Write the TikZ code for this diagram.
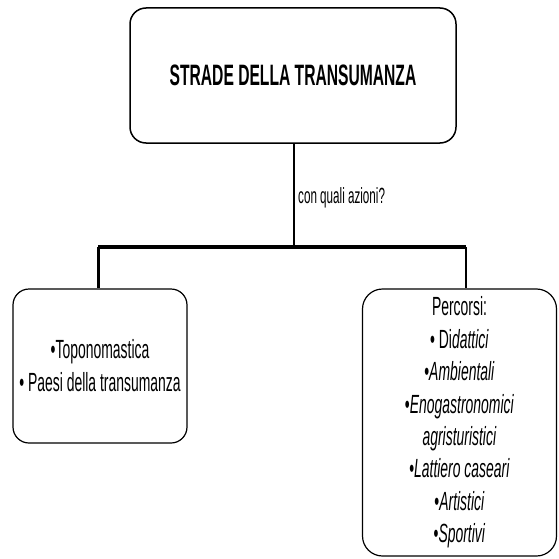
\documentclass[tikz,border=0pt]{standalone}
\usepackage{fontspec}
\setmainfont{Liberation Sans}[FakeStretch=0.53]
\usepackage{tikz}

\begin{document}
\begin{tikzpicture}[x=1pt,y=-1pt,
    box/.style={draw, rounded corners=16pt, line width=1.2pt, align=center, inner sep=0pt},
    ramo/.style={line width=3pt}]
    \useasboundingbox (0,0) rectangle (559,559);

    % Title box
    \node[box, line width=1.5pt, minimum width=326pt, minimum height=135pt,
        font=\fontsize{29.5}{34}\selectfont\bfseries] (strade) at (293,75.5)
        {STRADE DELLA TRANSUMANZA};

    % Branch boxes
    \node[box, minimum width=174pt, minimum height=154pt,
        font=\fontsize{26.3}{33}\selectfont] (temi) at (100,366)
        {\textbullet Toponomastica\\\textbullet{} Paesi della transumanza};
    \node[box, rounded corners=20pt, minimum width=194pt, minimum height=267pt,
        font=\fontsize{26.3}{32.4}\selectfont] (percorsi) at (459.5,422.5)
        {Percorsi:\\\textbullet{} Di\textit{dattici}\\\textbullet\textit{Ambientali}\\
         \textbullet\textit{Enogastronomici}\\\textit{agristuristici}\\
         \textbullet\textit{Lattiero caseari}\\\textbullet\textit{Artistici}\\
         \textbullet\textit{Sportivi}};

    % Junction points
    \coordinate (snodo) at (294,247);
    \coordinate (gomitoSx) at (98,247);
    \coordinate (gomitoDx) at (466,247);

    % Connectors
    \draw[line width=1.8pt] (strade.south -| snodo) -- (snodo);
    \draw[ramo, line width=3.5pt] (gomitoSx) -- (gomitoDx);
    \draw[ramo] (gomitoSx) -- (gomitoSx |- temi.north);
    \draw[ramo, line width=2pt] (gomitoDx) -- (gomitoDx |- percorsi.north);

    % Question label
    \node[anchor=west, inner sep=0pt, font=\fontsize{22}{24}\selectfont] (azioni)
        at (298,198) {con quali azioni?};
\end{tikzpicture}
\end{document}
